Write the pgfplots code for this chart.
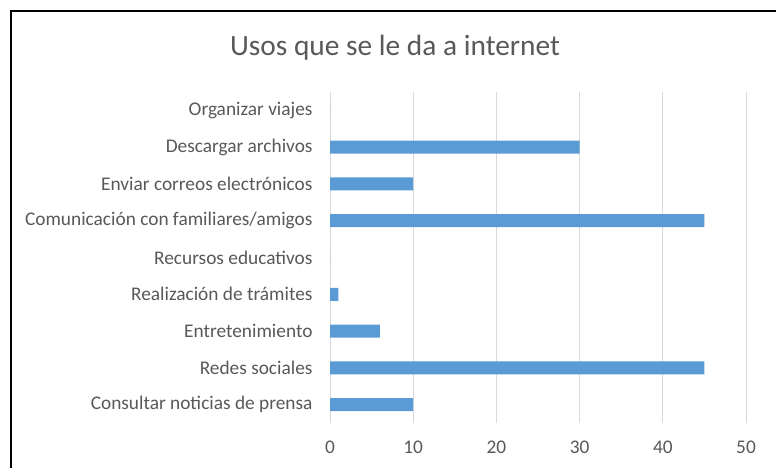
\documentclass[border=0pt]{standalone}
\usepackage{pgfplots}
\pgfplotsset{compat=1.18}
\usepackage{fontspec}
\setmainfont{Carlito}
\definecolor{barblue}{HTML}{5B9BD5}
\definecolor{txt}{HTML}{595959}
\definecolor{gridc}{HTML}{D9D9D9}
\begin{document}
\begin{tikzpicture}[x=1bp,y=1bp]
\useasboundingbox (0,0) rectangle (776,468);
\fill[white] (0,0) rectangle (776,468);
\draw[line width=2bp, black] (11,-2) -- (11,457) -- (778,457);
\node[txt, font=\fontsize{29.5}{33}\selectfont] at (395,420) {Usos que se le da a internet};
\begin{axis}[at={(330bp,45bp)}, anchor=south west, scale only axis,
  width=416bp, height=331bp,
  xbar, bar width=13bp,
  xmin=0, xmax=50, ymin=-0.5, ymax=8.5,
  xtick={0,10,...,50}, ytick={0,...,8},
  yticklabels={Consultar noticias de prensa, Redes sociales, Entretenimiento, Realización de trámites, Recursos educativos, Comunicación con familiares/amigos, Enviar correos electrónicos, Descargar archivos, Organizar viajes},
  axis line style={draw=none}, major tick length=0pt,
  xmajorgrids, grid style={gridc, line width=1bp},
  ticklabel style={txt, font=\fontsize{19.4}{22}\selectfont},
  /pgf/number format/assume math mode=true,
  yticklabel style={xshift=-14bp},
  xticklabel style={yshift=-14bp},
  clip=false,
]
\addplot[fill=barblue, draw=none] coordinates {(10,0) (45,1) (6,2) (1,3) (0,4) (45,5) (10,6) (30,7) (0,8)};
\end{axis}
\end{tikzpicture}
\end{document}
